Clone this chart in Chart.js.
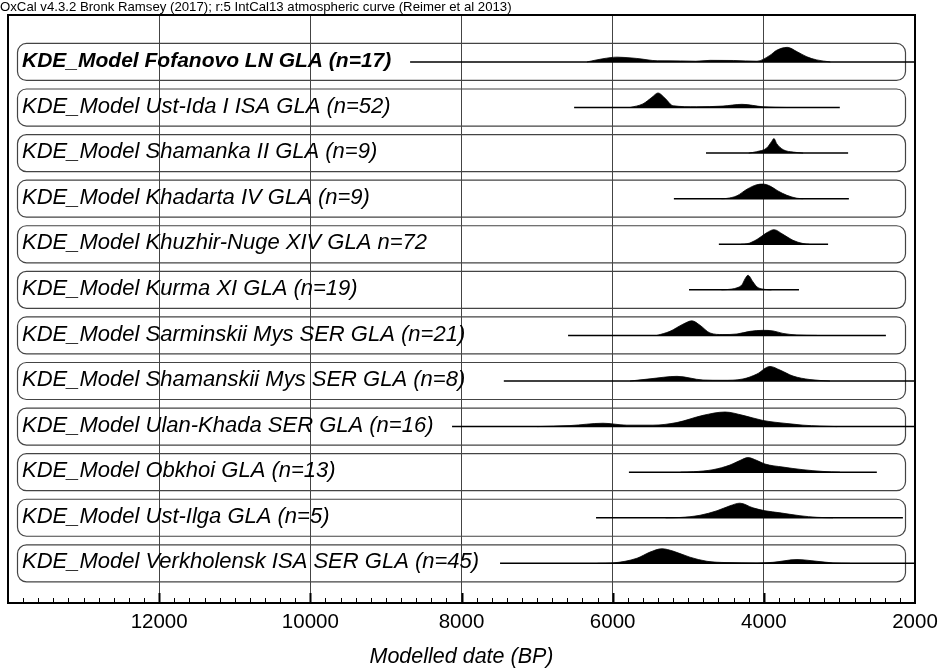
<!DOCTYPE html>
<html>
<head>
<meta charset="utf-8">
<script src="https://cdn.jsdelivr.net/npm/chart.js@4.4.0/dist/chart.umd.min.js"></script>
<style>
  html, body { margin: 0; padding: 0; background: #fff; }
</style>
</head>
<body>
<canvas id="oxcalChart" width="938" height="670"></canvas>
<script>
const headerText = 'OxCal v4.3.2 Bronk Ramsey (2017); r:5 IntCal13 atmospheric curve (Reimer et al 2013)';
const axisTitle = 'Modelled date (BP)';
const tickLabels = [12000, 10000, 8000, 6000, 4000, 2000];

const rowLabels = [
    'KDE_Model Fofanovo LN GLA (n=17)',
    'KDE_Model Ust-Ida I ISA GLA (n=52)',
    'KDE_Model Shamanka II GLA (n=9)',
    'KDE_Model Khadarta IV GLA (n=9)',
    'KDE_Model Khuzhir-Nuge XIV GLA n=72',
    'KDE_Model Kurma XI GLA (n=19)',
    'KDE_Model Sarminskii Mys SER GLA (n=21)',
    'KDE_Model Shamanskii Mys SER GLA (n=8)',
    'KDE_Model Ulan-Khada SER GLA (n=16)',
    'KDE_Model Obkhoi GLA (n=13)',
    'KDE_Model Ust-Ilga GLA (n=5)',
    'KDE_Model Verkholensk ISA SER GLA (n=45)'
];

// range of each model (years BP)
const rangeStart = [8680, 6510, 4765, 5190, 4595, 4990, 6590, 7440, 8125, 5785, 6220, 7490];
const rangeEnd = [2000, 2995, 2885, 2875, 3150, 3535, 2385, 2000, 2000, 2505, 2160, 2000];

// [year BP, relative probability] - peak of each distribution = 1
const fofanovo = [[6340,0],[6130,0.22],[5940,0.33],[5680,0.24],[5410,0.08],[5100,0.07],[4900,0.05],[4710,0.11],[4400,0.1],[4090,0.05],[3920,0.45],[3830,0.8],[3690,1],[3560,0.7],[3430,0.35],[3300,0.14],[3120,0]];
const ustIda = [[5770,0],[5600,0.25],[5480,0.7],[5400,1],[5310,0.65],[5200,0.12],[4890,0.05],[4540,0.1],[4290,0.22],[4010,0.05],[3690,0]];
const shamanka = [[4200,0],[4095,0.1],[3962,0.35],[3896,0.8],[3866,1],[3830,0.65],[3742,0.23],[3610,0.07],[3480,0]];
const khadarta = [[4560,0],[4490,0.02],[4355,0.2],[4223,0.65],[4091,0.96],[4011,1],[3919,0.87],[3813,0.53],[3694,0.23],[3562,0.03],[3480,0]];
const khuzhir = [[4300,0],[4223,0.03],[4091,0.33],[3958,0.8],[3866,1],[3747,0.68],[3614,0.27],[3482,0.05],[3400,0]];
const kurma = [[4560,0],[4488,0.02],[4355,0.14],[4289,0.35],[4249,0.75],[4210,1],[4144,0.55],[4091,0.2],[3985,0.03],[3900,0]];
const sarminskii = [[5414,0],[5242,0.28],[5070,0.77],[4951,1],[4845,0.7],[4713,0.17],[4541,0.06],[4355,0.1],[4183,0.28],[4011,0.35],[3879,0.31],[3747,0.14],[3562,0.03],[3297,0]];
const shamanskii = [[5770,0],[5506,0.15],[5149,0.32],[4805,0.07],[4541,0.05],[4276,0.14],[4091,0.48],[3919,1],[3786,0.75],[3614,0.34],[3390,0.1],[3125,0]];
const ulanKhada = [[7000,0],[6565,0.07],[6128,0.23],[5811,0.1],[5467,0.1],[5149,0.28],[4805,0.77],[4514,1],[4276,0.77],[4011,0.42],[3694,0.21],[3482,0.1],[3257,0.035],[3030,0]];
const obkhoi = [[5100,0],[4933,0.03],[4673,0.17],[4448,0.49],[4316,0.8],[4210,1],[4091,0.8],[3985,0.56],[3747,0.35],[3482,0.17],[3218,0.05],[2993,0]];
const ustIlga = [[5300,0],[5109,0.02],[4845,0.17],[4620,0.48],[4448,0.82],[4316,1],[4144,0.68],[3985,0.48],[3786,0.34],[3522,0.14],[3297,0.03],[3085,0]];
const verkholensk = [[6200,0],[5996,0.03],[5678,0.35],[5506,0.77],[5348,1],[5202,0.84],[4977,0.42],[4752,0.14],[4488,0.05],[4091,0.02],[3879,0.07],[3562,0.26],[3297,0.14],[3085,0.03],[2860,0]];

const densities = [fofanovo, ustIda, shamanka, khadarta, khuzhir, kurma, sarminskii, shamanskii, ulanKhada, obkhoi, ustIlga, verkholensk];

// layout in "row units" on the hidden y axis
const firstRow = 1.03;
const yMax = 12.9;
const peakHeight = 0.32;
const boxTop = 0.417;
const boxBottom = 0.395;

const fontFamily = '"Liberation Sans", Arial, Helvetica, sans-serif';

const datasets = [];
densities.forEach((d, i) => {
    const base = firstRow + i;
    datasets.push({
        data: d.map(p => ({x: p[0], y: base - p[1] * peakHeight})),
        fill: {value: base},
        backgroundColor: '#000',
        borderColor: '#000',
        borderWidth: 0.8,
        pointRadius: 0,
        cubicInterpolationMode: 'monotone'
    });
    datasets.push({
        data: [{x: rangeStart[i], y: base}, {x: rangeEnd[i], y: base}],
        fill: false,
        borderColor: '#000',
        borderWidth: 1.5,
        pointRadius: 0
    });
});

const rowBoxes = {
    id: 'rowBoxes',
    beforeDatasetsDraw(chart) {
        const {ctx, chartArea} = chart;
        const y = chart.scales.y;
        ctx.save();
        ctx.strokeStyle = '#444';
        ctx.lineWidth = 1.2;
        for (let i = 0; i < rowLabels.length; i++) {
            const base = firstRow + i;
            const top = y.getPixelForValue(base - boxTop);
            const bottom = y.getPixelForValue(base + boxBottom);
            ctx.beginPath();
            ctx.roundRect(chartArea.left + 9.5, top + 0.5, chartArea.right - chartArea.left - 19, bottom - top, 9);
            ctx.stroke();
        }
        ctx.restore();
    }
};

const rowText = {
    id: 'rowText',
    afterDatasetsDraw(chart) {
        const {ctx, chartArea} = chart;
        const y = chart.scales.y;
        ctx.save();
        ctx.fillStyle = '#000';
        ctx.textBaseline = 'middle';
        rowLabels.forEach((label, i) => {
            ctx.font = (i === 0 ? 'italic bold 21px ' : 'italic 22px ') + fontFamily;
            ctx.fillText(label, chartArea.left + 14, y.getPixelForValue(firstRow + i) - 1);
        });
        ctx.restore();
    }
};

const frame = {
    id: 'frame',
    afterDraw(chart) {
        const {ctx, chartArea} = chart;
        const x = chart.scales.x;
        ctx.save();
        ctx.strokeStyle = '#000';
        for (let year = 2200; year < 14000; year += 200) {
            const px = Math.round(x.getPixelForValue(year)) + 0.5;
            const major = year % 2000 === 0;
            ctx.lineWidth = major ? 2 : 1;
            ctx.beginPath();
            ctx.moveTo(px, chartArea.bottom);
            ctx.lineTo(px, chartArea.bottom - (major ? 10 : 5));
            ctx.stroke();
        }
        ctx.lineWidth = 2;
        ctx.strokeRect(chartArea.left, chartArea.top, chartArea.right - chartArea.left, chartArea.bottom - chartArea.top);
        ctx.font = '13.2px ' + fontFamily;
        ctx.fillStyle = '#000';
        ctx.textBaseline = 'middle';
        ctx.fillText(headerText, 0, 7);
        ctx.restore();
    }
};

new Chart(document.getElementById('oxcalChart'), {
    type: 'line',
    data: {datasets: datasets},
    options: {
        responsive: false,
        animation: false,
        layout: {
            padding: {top: 15, left: 8, right: 23, bottom: 0}
        },
        scales: {
            x: {
                type: 'linear',
                reverse: true,
                min: 2000,
                max: 14000,
                border: {display: false},
                grid: {
                    color: ctx => (ctx.tick && ctx.tick.value > 2000 && ctx.tick.value < 14000) ? '#444' : 'rgba(0,0,0,0)',
                    lineWidth: 1,
                    drawTicks: false
                },
                ticks: {
                    stepSize: 2000,
                    autoSkip: false,
                    maxRotation: 0,
                    padding: 7,
                    color: '#000',
                    font: {size: 20.5, family: fontFamily},
                    callback: value => tickLabels.includes(value) ? String(value) : ''
                },
                title: {
                    display: true,
                    text: axisTitle,
                    color: '#000',
                    font: {size: 21.5, style: 'italic', family: fontFamily},
                    padding: {top: 0, bottom: 0}
                },
                afterFit(scale) {
                    scale.height = 67;
                    scale.paddingLeft = 0;
                    scale.paddingRight = 0;
                }
            },
            y: {
                display: false,
                reverse: true,
                min: 0,
                max: yMax
            }
        },
        plugins: {
            legend: {display: false},
            tooltip: {enabled: false}
        }
    },
    plugins: [rowBoxes, rowText, frame]
});
</script>
</body>
</html>
